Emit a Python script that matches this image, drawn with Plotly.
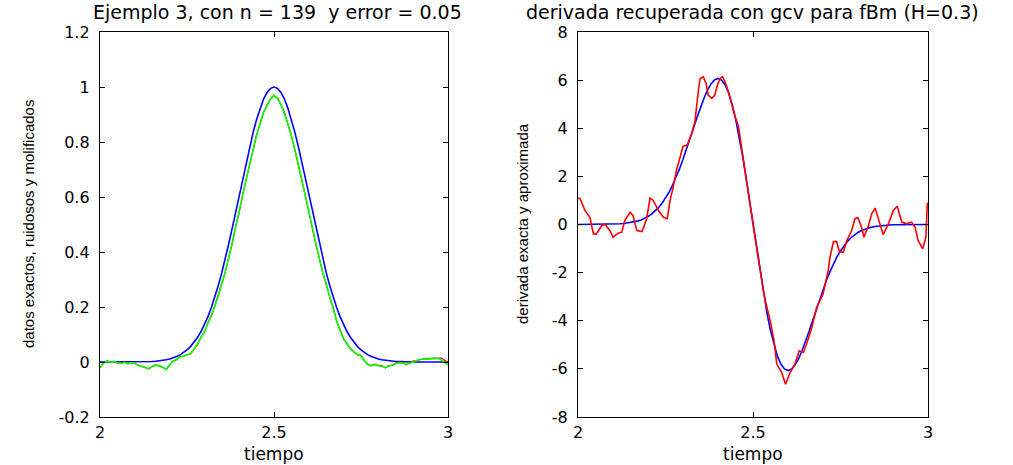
import numpy as np
import plotly.graph_objects as go

# sample times for the signal on [2, 3]
t = np.round(np.linspace(2.0, 3.0, 101), 2)

# exact data (Gaussian pulse)
exact = [0.000, 0.000, 0.000, 0.000, 0.000, 0.000, 0.000, 0.000, 0.000, 0.000,
         0.000, 0.000, 0.001, 0.001, 0.002, 0.002, 0.003, 0.004, 0.006, 0.008,
         0.011, 0.015, 0.020, 0.026, 0.034, 0.044, 0.056, 0.071, 0.089, 0.110,
         0.135, 0.164, 0.198, 0.236, 0.278, 0.325, 0.375, 0.430, 0.487, 0.546,
         0.607, 0.667, 0.726, 0.783, 0.835, 0.882, 0.923, 0.956, 0.980, 0.995,
         1.000,
         0.995, 0.980, 0.956, 0.923, 0.882, 0.835, 0.783, 0.726, 0.667, 0.607,
         0.546, 0.487, 0.430, 0.375, 0.325, 0.278, 0.236, 0.198, 0.164, 0.135,
         0.110, 0.089, 0.071, 0.056, 0.044, 0.034, 0.026, 0.020, 0.015, 0.011,
         0.008, 0.006, 0.004, 0.003, 0.002, 0.002, 0.001, 0.001, 0.000, 0.000,
         0.000, 0.000, 0.000, 0.000, 0.000, 0.000, 0.000, 0.000, 0.000, 0.000]

# noisy data
noisy = [-0.022, -0.003, 0.005, -0.002, 0.003, -0.005, -0.005, 0.000, -0.007, -0.002,
         -0.006, -0.011, -0.017, -0.019, -0.026, -0.016, -0.012, -0.013, -0.020, -0.026,
         -0.012, 0.004, 0.008, 0.020, 0.020, 0.027, 0.028, 0.048, 0.062, 0.091,
         0.107, 0.143, 0.166, 0.206, 0.238, 0.286, 0.326, 0.382, 0.430, 0.493,
         0.544, 0.609, 0.661, 0.724, 0.772, 0.827, 0.866, 0.908, 0.933, 0.958,
         0.968,
         0.960, 0.935, 0.907, 0.864, 0.824, 0.771, 0.721, 0.660, 0.606, 0.543,
         0.490, 0.429, 0.379, 0.325, 0.283, 0.236, 0.200, 0.148, 0.117, 0.083,
         0.067, 0.048, 0.037, 0.026, 0.024, 0.003, -0.008, -0.014, -0.008, -0.014,
         -0.013, -0.022, -0.013, -0.012, -0.003, -0.004, -0.002, -0.010, -0.003, 0.004,
         0.004, 0.010, 0.010, 0.012, 0.011, 0.015, 0.012, 0.015, 0.006, -0.002]

# mollified data
mollified = [-0.020, -0.005, 0.004, 0.000, 0.002, -0.003, -0.006, -0.002, -0.005, -0.003,
             -0.005, -0.012, -0.015, -0.020, -0.024, -0.018, -0.010, -0.015, -0.018, -0.027,
             -0.010, 0.002, 0.010, 0.018, 0.022, 0.025, 0.030, 0.045, 0.065, 0.088,
             0.110, 0.140, 0.169, 0.203, 0.241, 0.283, 0.329, 0.379, 0.433, 0.490,
             0.547, 0.606, 0.664, 0.721, 0.775, 0.824, 0.868, 0.906, 0.935, 0.956,
             0.970,
             0.958, 0.937, 0.905, 0.866, 0.822, 0.773, 0.719, 0.662, 0.604, 0.545,
             0.488, 0.431, 0.377, 0.327, 0.281, 0.238, 0.198, 0.150, 0.115, 0.085,
             0.065, 0.050, 0.035, 0.028, 0.022, 0.005, -0.010, -0.012, -0.010, -0.012,
             -0.015, -0.020, -0.015, -0.010, -0.005, -0.002, -0.004, -0.008, -0.005, 0.002,
             0.006, 0.008, 0.012, 0.010, 0.013, 0.012, 0.014, 0.008, 0.000, -0.010]

# exact derivative
deriv_exact = [0.00, 0.00, 0.00, 0.00, 0.00, 0.00, 0.00, 0.00, 0.01, 0.01,
               0.01, 0.02, 0.03, 0.04, 0.06, 0.08, 0.10, 0.14, 0.19, 0.25,
               0.33, 0.43, 0.55, 0.70, 0.88, 1.10, 1.34, 1.63, 1.96, 2.31,
               2.71, 3.12, 3.56, 4.01, 4.45, 4.87, 5.25, 5.59, 5.84, 6.01,
               6.07, 6.00, 5.81, 5.48, 5.01, 4.41, 3.69, 2.87, 1.96, 0.995,
               0.00,
               -0.995, -1.96, -2.87, -3.69, -4.41, -5.01, -5.48, -5.81, -6.00, -6.07,
               -6.01, -5.84, -5.59, -5.25, -4.87, -4.45, -4.01, -3.56, -3.12, -2.71,
               -2.31, -1.96, -1.63, -1.34, -1.10, -0.88, -0.70, -0.55, -0.43, -0.33,
               -0.25, -0.19, -0.14, -0.10, -0.08, -0.06, -0.04, -0.03, -0.02, -0.01,
               -0.01, -0.01, 0.00, 0.00, 0.00, 0.00, 0.00, 0.00, 0.00, 0.00]

# recovered derivative (gcv)
t_rec = [2.000, 2.006, 2.020, 2.034, 2.044, 2.052, 2.068, 2.077, 2.091, 2.100,
         2.115, 2.125, 2.134, 2.149, 2.157, 2.168, 2.183, 2.196, 2.206, 2.215,
         2.230, 2.244, 2.255, 2.263, 2.272, 2.282, 2.290, 2.300, 2.312, 2.325,
         2.334, 2.339, 2.344, 2.349, 2.358, 2.366, 2.372, 2.382, 2.391, 2.398,
         2.406, 2.413, 2.420, 2.430, 2.439, 2.449, 2.458, 2.468, 2.477, 2.490,
         2.500, 2.510, 2.520, 2.530, 2.539, 2.549, 2.560, 2.568, 2.582, 2.593,
         2.606, 2.620, 2.632, 2.644, 2.653, 2.668, 2.682, 2.700, 2.715, 2.720,
         2.730, 2.739, 2.747, 2.758, 2.768, 2.782, 2.791, 2.800, 2.810, 2.817,
         2.830, 2.839, 2.849, 2.858, 2.872, 2.887, 2.901, 2.912, 2.925, 2.939,
         2.953, 2.963, 2.972, 2.985, 2.994, 2.998, 3.000]
deriv_rec = [1.10, 1.07, 0.58, 0.30, -0.39, -0.40, -0.04, 0.00, -0.25, -0.53,
             -0.36, -0.32, 0.17, 0.51, 0.38, -0.25, -0.29, 0.24, 1.10, 1.00,
             0.58, 0.30, 0.24, 1.00, 1.56, 2.30, 2.70, 3.25, 3.30, 3.78,
             4.26, 5.03, 5.58, 6.07, 6.14, 5.86, 5.38, 5.24, 5.38, 5.79,
             6.07, 6.14, 5.93, 5.51, 5.03, 4.47, 4.12, 3.08, 2.25, 1.00,
             0.00, -1.00, -1.95, -2.80, -3.40, -4.00, -4.83, -5.80, -6.15, -6.64,
             -6.15, -5.80, -5.25, -5.32, -4.97, -4.28, -3.44, -2.90, -1.92, -1.36,
             -0.71, -0.71, -1.15, -1.15, -0.67, -0.25, 0.24, 0.28, -0.11, -0.53,
             -0.04, 0.44, 0.68, 0.24, -0.42, 0.03, 0.58, 0.76, 0.10, 0.03,
             0.10, -0.11, -0.67, -1.01, -0.53, 0.86, 0.90]

# axis ticks
x_ticks = [2, 2.5, 3]
x_tick_text = ["2", "2.5", "3"]
y1_ticks = [-0.2, 0, 0.2, 0.4, 0.6, 0.8, 1.0, 1.2]
y1_tick_text = ["-0.2", "0", "0.2", "0.4", "0.6", "0.8", "1", "1.2"]
y2_ticks = [-8, -6, -4, -2, 0, 2, 4, 6, 8]
y2_tick_text = ["-8", "-6", "-4", "-2", "0", "2", "4", "6", "8"]

BLUE, RED, GREEN = "#0000ff", "#ff0000", "#00ff00"
TICK_FONT = dict(family="DejaVu Sans", size=16, color="black")

fig = go.Figure()
fig.add_trace(go.Scatter(x=t, y=exact, mode="lines", line=dict(color=BLUE, width=1.6),
                         xaxis="x", yaxis="y"))
fig.add_trace(go.Scatter(x=t, y=noisy, mode="lines",
                         line=dict(color=RED, width=1.2), xaxis="x", yaxis="y"))
fig.add_trace(go.Scatter(x=t, y=mollified, mode="lines", line=dict(color=GREEN, width=1.6),
                         xaxis="x", yaxis="y"))
fig.add_trace(go.Scatter(x=t, y=deriv_exact, mode="lines", line=dict(color=BLUE, width=1.6),
                         xaxis="x2", yaxis="y2"))
fig.add_trace(go.Scatter(x=t_rec, y=deriv_rec, mode="lines", line=dict(color=RED, width=1.6),
                         xaxis="x2", yaxis="y2"))

W, H = 1013, 465
left_dom = [100 / W, 448 / W]
right_dom = [578 / W, 928 / W]
y_dom = [(H - 417) / H, (H - 32) / H]

axis_common = dict(showline=True, linecolor="black", linewidth=1.3, mirror="ticks",
                   ticks="inside", ticklen=5, tickcolor="black", tickwidth=1.3,
                   showgrid=False, zeroline=False, tickfont=TICK_FONT, automargin=False)

fig.update_layout(
    width=W, height=H, margin=dict(l=0, r=0, t=0, b=0, autoexpand=False),
    paper_bgcolor="white", plot_bgcolor="white", showlegend=False,
    xaxis=dict(domain=left_dom, range=[2, 3], tickvals=x_ticks, ticktext=x_tick_text,
               anchor="y", ticklabelstandoff=1, **axis_common),
    yaxis=dict(domain=y_dom, range=[-0.2, 1.2], tickvals=y1_ticks, ticktext=y1_tick_text,
               anchor="x", ticklabelstandoff=6, **axis_common),
    xaxis2=dict(domain=right_dom, range=[2, 3], tickvals=x_ticks, ticktext=x_tick_text,
                anchor="y2", ticklabelstandoff=1, **axis_common),
    yaxis2=dict(domain=y_dom, range=[-8, 8], tickvals=y2_ticks, ticktext=y2_tick_text,
                anchor="x2", ticklabelstandoff=6, **axis_common),
)

title_font = dict(family="DejaVu Sans", size=19, color="black")
label_font = dict(family="DejaVu Sans", size=17, color="black")
ylabel_font = dict(family="Liberation Sans Narrow, Liberation Sans, Arial", size=15, color="black")
NB = "\u00a0"

annotations = [
    dict(text=f"Ejemplo 3, con n = 139{NB}{NB}y error = 0.05", x=277 / W, y=1 - 12 / H,
         font=title_font),
    dict(text="derivada recuperada con gcv para fBm (H=0.3)", x=752 / W, y=1 - 12 / H,
         font=title_font),
    dict(text="tiempo", x=274 / W, y=1 - 454 / H, font=label_font),
    dict(text="tiempo", x=753 / W, y=1 - 454 / H, font=label_font),
    dict(text="datos exactos, ruidosos y molificados", x=28 / W, y=1 - 224 / H,
         textangle=-90, font=ylabel_font),
    dict(text="derivada exacta y aproximada", x=522 / W, y=1 - 224 / H,
         textangle=-90, font=ylabel_font),
]
for a in annotations:
    fig.add_annotation(xref="paper", yref="paper", xanchor="center", yanchor="middle",
                       showarrow=False, **a)

fig.write_html("out.html")
